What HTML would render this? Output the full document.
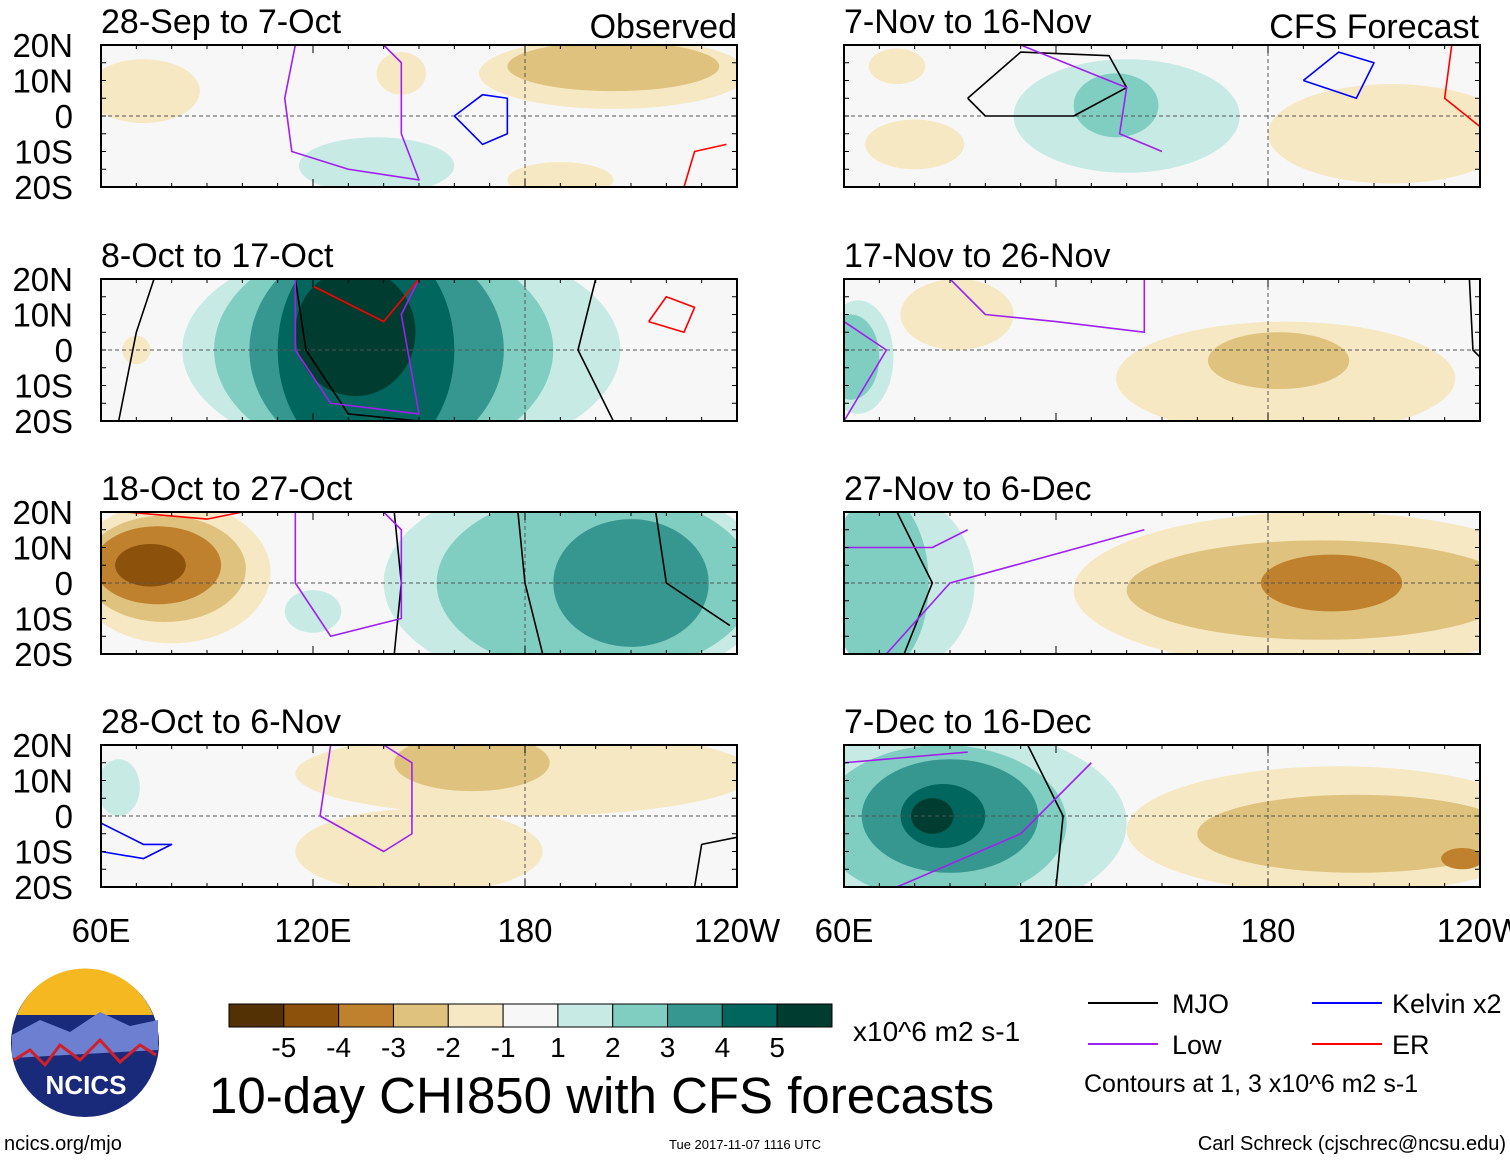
<!DOCTYPE html>
<html><head><meta charset="utf-8"><style>
body{margin:0;background:#fff;}
svg text{font-family:"Liberation Sans",Arial,sans-serif;}
</style></head><body>
<svg id="chart" width="1510" height="1159" viewBox="0 0 1510 1159" xmlns="http://www.w3.org/2000/svg">
<defs id="defs"></defs>
<g id="panels"></g>
<g id="legendbar"></g>
<g>
 <circle cx="85" cy="1043" r="74" fill="#1a2a7a"/>
 <path d="M17,1015 A73,73 0 0 1 153,1015 Z" fill="#f5b820"/>
 <path d="M12,1035 L40,1020 L70,1032 L100,1012 L130,1026 L158,1020 L158,1050 L12,1058 Z" fill="#6d7fd0"/>
 <path d="M14,1060 L30,1050 L45,1065 L60,1045 L80,1060 L100,1040 L120,1062 L140,1045 L156,1055" fill="none" stroke="#d0202a" stroke-width="3"/>
 <text x="86" y="1094" text-anchor="middle" font-size="26" font-weight="bold" fill="#fff">NCICS</text>
</g>
<text x="209" y="1113" font-size="51" fill="#000">10-day CHI850 with CFS forecasts</text>
<text x="853" y="1041" font-size="28">x10^6 m2 s-1</text>
<g>
 <line x1="1088" y1="1003" x2="1158" y2="1003" stroke="#000" stroke-width="2"/>
 <text x="1172" y="1013" font-size="27">MJO</text>
 <line x1="1088" y1="1044" x2="1158" y2="1044" stroke="#a020f0" stroke-width="2"/>
 <text x="1172" y="1054" font-size="27">Low</text>
 <line x1="1312" y1="1003" x2="1382" y2="1003" stroke="#0000ff" stroke-width="2"/>
 <text x="1392" y="1013" font-size="27">Kelvin x2</text>
 <line x1="1312" y1="1044" x2="1382" y2="1044" stroke="#ff0000" stroke-width="2"/>
 <text x="1392" y="1054" font-size="27">ER</text>
 <text x="1084" y="1092" font-size="25">Contours at 1, 3 x10^6 m2 s-1</text>
</g>
<text x="4" y="1150" font-size="20">ncics.org/mjo</text>
<text x="669" y="1149" font-size="13">Tue 2017-11-07 1116 UTC</text>
<text x="1506" y="1150" font-size="20" text-anchor="end">Carl Schreck (cjschrec@ncsu.edu)</text>
</svg>
<script>
const levelKeys=[-5,-4,-3,-2,-1,1,2,3,4,5];
const levelColors=["#543005","#8c510a","#bf812d","#dfc27d","#f6e8c3","#c7eae5","#80cdc1","#35978f","#01665e","#003c30"];
const colorbarLabels=["-5","-4","-3","-2","-1","1","2","3","4","5"];
const panelTitles=["28-Sep to 7-Oct","8-Oct to 17-Oct","18-Oct to 27-Oct","28-Oct to 6-Nov","7-Nov to 16-Nov","17-Nov to 26-Nov","27-Nov to 6-Dec","7-Dec to 16-Dec"];
const latTicks=[20,10,0,-10,-20];
const latLabels=["20N","10N","0","10S","20S"];
const lonTicks=[60,120,180,240];
const lonLabels=["60E","120E","180","120W"];
// blobs: [lon, lat, rxDeg, ryDeg, level]
const blobs0=[[72,7,16,9,-1],[205,12,38,10,-1],[205,14,30,7,-2],[138,-14,22,8,1],[190,-18,15,5,-1],[145,12,7,6,-1]];
const blobs1=[[145,0,62,32,1],[140,0,48,32,2],[138,0,36,32,3],[135,0,25,32,4],[132,5,17,18,5],[70,0,4,4,-1]];
const blobs2=[[80,3,28,20,-1],[78,4,23,15,-2],[76,5,18,11,-3],[74,5,10,6,-4],[195,0,55,30,1],[200,0,45,26,2],[210,0,22,18,3],[120,-8,8,6,1]];
const blobs3=[[180,12,65,12,-1],[165,15,22,8,-2],[150,-10,35,12,-1],[65,8,6,8,1]];
const blobs4=[[140,0,32,16,1],[137,3,12,9,2],[80,-8,14,7,-1],[215,-5,35,14,-1],[75,14,8,5,-1]];
const blobs5=[[92,10,16,10,-1],[185,-8,48,16,-1],[183,-3,20,8,-2],[62,-2,8,12,2],[64,-2,10,16,1]];
const blobs6=[[75,0,22,25,1],[70,0,14,25,2],[195,-2,70,22,-1],[195,-2,55,14,-2],[198,0,20,8,-3]];
const blobs7=[[85,-2,55,28,1],[88,-2,35,22,2],[90,0,25,16,3],[88,0,12,9,4],[85,0,6,5,5],[200,-4,60,18,-1],[205,-5,45,11,-2],[235,-12,6,3,-3]];
const allBlobs=[blobs0,blobs1,blobs2,blobs3,blobs4,blobs5,blobs6,blobs7];
// contours: [color, [[lon,lat],...]]
const contours0=[["#a020f0",[[115,20],[112,5],[114,-10],[130,-15],[150,-18],[145,-5],[145,15],[140,20]]],["#0000ff",[[160,0],[168,-8],[175,-5],[175,5],[168,6],[160,0]]],["#ff0000",[[225,-20],[228,-10],[237,-8]]]];
const contours1=[["#000",[[75,20],[70,5],[65,-20]]],["#000",[[200,20],[195,0],[205,-20]]],["#000",[[115,20],[118,0],[130,-18],[150,-20]]],["#a020f0",[[115,20],[115,0],[125,-15],[150,-18],[145,10],[150,20]]],["#ff0000",[[120,18],[140,8],[150,20]]],["#ff0000",[[215,8],[225,5],[228,12],[220,15],[215,8]]]];
const contours2=[["#000",[[143,20],[145,0],[143,-20]]],["#000",[[178,20],[180,0],[185,-20]]],["#000",[[217,20],[220,0],[238,-12]]],["#a020f0",[[115,20],[115,0],[125,-15],[145,-10],[145,15],[140,20]]],["#ff0000",[[67,20],[90,18],[100,20]]]];
const contours3=[["#a020f0",[[125,20],[122,0],[140,-10],[148,-5],[148,15],[140,20]]],["#0000ff",[[60,-2],[72,-8],[80,-8],[72,-12],[60,-10]]],["#000",[[240,-6],[230,-8],[228,-20]]]];
const contours4=[["#000",[[95,5],[110,18],[135,17],[140,8],[125,0],[100,0],[95,5]]],["#a020f0",[[110,20],[140,8],[138,-5],[150,-10]]],["#0000ff",[[190,10],[200,18],[210,15],[205,5],[190,10]]],["#ff0000",[[232,20],[230,5],[240,-3]]]];
const contours5=[["#a020f0",[[90,20],[100,10],[120,8],[145,5],[145,20]]],["#a020f0",[[60,8],[72,0],[60,-20]]],["#000",[[237,20],[238,0],[240,-2]]]];
const contours6=[["#000",[[75,20],[85,0],[77,-20]]],["#a020f0",[[60,10],[85,10],[95,15]]],["#a020f0",[[72,-20],[90,0],[145,15]]]];
const contours7=[["#000",[[112,20],[122,0],[120,-20]]],["#a020f0",[[60,15],[95,18]]],["#a020f0",[[75,-20],[110,-5],[130,15]]]];
const allContours=[contours0,contours1,contours2,contours3,contours4,contours5,contours6,contours7];

const NS="http://www.w3.org/2000/svg";
const PW=636,PH=142,PX=[101,844],PY=[45,279,512,745];
function mk(tag,attrs,parent){const e=document.createElementNS(NS,tag);for(const k in attrs)e.setAttribute(k,attrs[k]);parent.appendChild(e);return e;}
const panelsG=document.getElementById('panels'),defs=document.getElementById('defs');
for(let p=0;p<8;p++){
  const x0=PX[p<4?0:1],y0=PY[p%4];
  const xs=lon=>x0+(lon-60)/180*PW, ys=lat=>y0+(20-lat)/40*PH;
  const cp=mk('clipPath',{id:'cp'+p},defs);mk('rect',{x:x0,y:y0,width:PW,height:PH},cp);
  const g=mk('g',{'clip-path':'url(#cp'+p+')'},panelsG);
  
  
  mk('rect',{x:x0,y:y0,width:PW,height:PH,fill:'#f7f7f7'},g);
  const sorted=allBlobs[p].slice().sort((a,b)=>Math.abs(a[4])-Math.abs(b[4]));
  sorted.forEach(b=>{
    const e=mk('ellipse',{cx:xs(b[0]),cy:ys(b[1]),rx:b[2]*PW/180,ry:b[3]*PH/40,fill:levelColors[levelKeys.indexOf(b[4])]},g);
    
    
  });
  mk('line',{x1:x0,x2:x0+PW,y1:ys(0),y2:ys(0),stroke:'#555','stroke-dasharray':'4,3','stroke-width':1},g);
  mk('line',{x1:xs(180),x2:xs(180),y1:y0,y2:y0+PH,stroke:'#555','stroke-dasharray':'4,3','stroke-width':1},g);
  allContours[p].forEach(c=>{
    const pts=c[1].map(q=>xs(q[0])+','+ys(q[1])).join(' ');
    const l=mk('polyline',{points:pts,fill:'none',stroke:c[0],'stroke-width':1.6,'stroke-linejoin':'round'},g);
    
    
  });
  const fr=mk('rect',{x:x0,y:y0,width:PW,height:PH,fill:'none',stroke:'#000','stroke-width':2},panelsG);
  
  
  for(let lon=60;lon<=240;lon+=10){const x=xs(lon),len=lon%60==0?8:4;
    mk('line',{x1:x,x2:x,y1:y0,y2:y0+len,stroke:'#000'},panelsG);mk('line',{x1:x,x2:x,y1:y0+PH,y2:y0+PH-len,stroke:'#000'},panelsG);}
  for(let lat=-20;lat<=20;lat+=5){const y=ys(lat);
    mk('line',{x1:x0,x2:x0+5,y1:y,y2:y,stroke:'#000'},panelsG);mk('line',{x1:x0+PW,x2:x0+PW-5,y1:y,y2:y,stroke:'#000'},panelsG);}
  const t=mk('text',{x:x0,y:y0-12,'font-size':34},panelsG);t.textContent=panelTitles[p];
  
  
  if(p<4){latTicks.forEach((lat,i)=>{const tl=mk('text',{x:73,y:ys(lat)+12,'font-size':33,'text-anchor':'end'},panelsG);tl.textContent=latLabels[i];
    
    });}
  if(p%4==3){lonTicks.forEach((lon,i)=>{const tl=mk('text',{x:xs(lon),y:942,'font-size':33,'text-anchor':'middle'},panelsG);tl.textContent=lonLabels[i];
    
    });}
}
const h1=mk('text',{x:737,y:38,'font-size':34,'text-anchor':'end'},panelsG);h1.textContent='Observed';


const h2=mk('text',{x:1479,y:38,'font-size':34,'text-anchor':'end'},panelsG);h2.textContent='CFS Forecast';


const lb=document.getElementById('legendbar');
const barColors=levelColors.slice(0,5).concat(['#f7f7f7']).concat(levelColors.slice(5));
const bw=603/11;
barColors.forEach((c,i)=>{const r=mk('rect',{x:229+i*bw,y:1004,width:bw,height:23,fill:c,stroke:'#000','stroke-width':1},lb);
  
  });
colorbarLabels.forEach((s,i)=>{const t=mk('text',{x:229+(i+1)*bw,y:1057,'font-size':28,'text-anchor':'middle'},lb);t.textContent=s;
  
  });
</script>
</body></html>
